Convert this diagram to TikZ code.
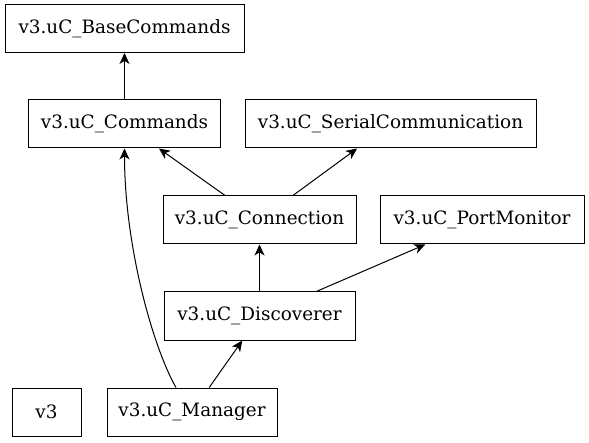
\documentclass[tikz,border=0pt]{standalone}
\usepackage{fontspec}
\setmainfont{DejaVu Serif}
\usetikzlibrary{arrows.meta,positioning}

\tikzset{
  mod/.style={rectangle, draw=black, line width=0.5pt, minimum height=24pt,
              inner sep=0pt, font=\fontsize{9.2}{11}\selectfont},
  dep/.style={-{Stealth[length=5.5pt,width=5pt,inset=1.6pt]}, line width=0.5pt}
}

\begin{document}
\begin{tikzpicture}[x=0.5pt,y=-0.5pt]

\useasboundingbox (0,0) rectangle (589,443);

\node[mod, minimum width=119.5pt] (BaseCmd)  at (124.5,28.5) {v3.uC\_BaseCommands};
\node[mod, minimum width=96pt]    (Cmds)     at (124.5,124)  {v3.uC\_Commands};
\node[mod, minimum width=145.5pt] (Serial)   at (390.5,124)  {v3.uC\_SerialCommunication};
\node[mod, minimum width=96.5pt]  (Conn)     at (259.5,220)  {v3.uC\_Connection};
\node[mod, minimum width=102pt]   (PortMon)  at (482,220)    {v3.uC\_PortMonitor};
\node[mod, minimum width=95.5pt]  (Disc)     at (259.5,316)  {v3.uC\_Discoverer};
\node[mod, minimum width=34.5pt]  (V3)       at (46.5,412)   {v3};
\node[mod, minimum width=85pt]    (Mgr)      at (192,412)    {v3.uC\_Manager};

\draw[dep] (Cmds) -- (BaseCmd);
\draw[dep] (Conn) -- (Cmds);
\draw[dep] (Conn) -- (Serial);
\draw[dep] (Disc) -- (Conn);
\draw[dep] (Disc) -- (PortMon);
\draw[dep] (Mgr) -- (Disc);
\draw[dep] ([xshift=-8pt]Mgr.north) .. controls +(-24,-42) and +(0,95) .. (Cmds.south);

\end{tikzpicture}
\end{document}
